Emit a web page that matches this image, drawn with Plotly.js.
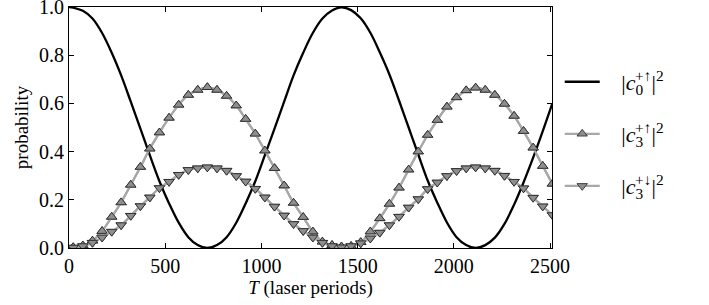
<!DOCTYPE html>
<html>
<head>
<meta charset="utf-8">
<script src="https://cdn.plot.ly/plotly-3.0.1.min.js"></script>
<style>html,body{margin:0;padding:0;background:#fff}#chart{width:709px;height:305px}</style>
</head>
<body>
<div id="chart"></div>
<script>
// Laser periods T (marker sample positions; the first 0 is the start of the curves)
const T = [0, 22, 72, 122, 172, 222, 271, 321, 371, 420, 470,
  520, 570, 620, 669, 719, 769, 819, 869, 918, 968,
  1018, 1068, 1118, 1167, 1217, 1267, 1317, 1367, 1416, 1466,
  1516, 1566, 1615, 1665, 1715, 1765, 1815, 1864, 1914, 1964,
  2014, 2064, 2113, 2163, 2213, 2263, 2313, 2362, 2412, 2462, 2512];

// |c0^{+up}|^2  (black line)
const c0up = [1.0, 0.997, 0.984, 0.952, 0.892, 0.81, 0.716, 0.607, 0.495, 0.385, 0.277,
  0.185, 0.105, 0.045, 0.012, 0.0, 0.012, 0.045, 0.105, 0.185, 0.277,
  0.385, 0.495, 0.607, 0.716, 0.81, 0.892, 0.952, 0.985, 0.999, 0.987,
  0.953, 0.893, 0.812, 0.72, 0.612, 0.50, 0.388, 0.28, 0.188, 0.106,
  0.045, 0.012, 0.0, 0.012, 0.043, 0.1, 0.18, 0.272, 0.375, 0.485, 0.6];

// |c3^{+up}|^2  (grey, up triangles)
const c3up = [0.0, 0.003, 0.01, 0.03, 0.07, 0.129, 0.189, 0.262, 0.336, 0.412, 0.479,
  0.54, 0.594, 0.635, 0.656, 0.667, 0.656, 0.631, 0.591, 0.535, 0.474,
  0.404, 0.331, 0.259, 0.187, 0.128, 0.068, 0.026, 0.012, 0.006, 0.008,
  0.024, 0.068, 0.123, 0.183, 0.25, 0.325, 0.4, 0.469, 0.531, 0.586,
  0.625, 0.654, 0.665, 0.656, 0.635, 0.598, 0.548, 0.485, 0.416, 0.34, 0.266];

// |c3^{+down}|^2  (grey, down triangles)
const c3dn = [0.0, 0.002, 0.008, 0.022, 0.044, 0.068, 0.095, 0.134, 0.174, 0.21, 0.249,
  0.275, 0.304, 0.324, 0.331, 0.335, 0.331, 0.321, 0.299, 0.276, 0.246,
  0.21, 0.172, 0.135, 0.1, 0.071, 0.044, 0.022, 0.008, 0.003, 0.008,
  0.02, 0.04, 0.064, 0.095, 0.13, 0.168, 0.203, 0.245, 0.272, 0.299,
  0.32, 0.331, 0.335, 0.331, 0.321, 0.3, 0.275, 0.248, 0.209, 0.173, 0.137];

const xTicks = [0, 500, 1000, 1500, 2000, 2500];
const yTicks = [0.0, 0.2, 0.4, 0.6, 0.8, 1.0];

const SP = '&nbsp;&nbsp;&nbsp;';
const names = [
  SP + '|<i>c</i><sub><span style="letter-spacing:-8px">0</span></sub><sup>+↑</sup>|<sup>2</sup>',
  SP + '|<i>c</i><sub><span style="letter-spacing:-8px">3</span></sub><sup>+↑</sup>|<sup>2</sup>',
  SP + '|<i>c</i><sub><span style="letter-spacing:-8px">3</span></sub><sup>+↓</sup>|<sup>2</sup>'
];

const FONT = 'Liberation Serif, Times New Roman, serif';
const GREY_LINE = '#a8a8a8';
const GREY_FILL = '#8e8e8e';

const traces = [
  {x: T, y: c3up, mode: 'lines', line: {color: GREY_LINE, width: 2.2, shape: 'spline', smoothing: 1}, showlegend: false, hoverinfo: 'skip'},
  {x: T, y: c3dn, mode: 'lines', line: {color: GREY_LINE, width: 2.2, shape: 'spline', smoothing: 1}, showlegend: false, hoverinfo: 'skip'},
  {x: T, y: c0up, mode: 'lines', line: {color: '#000', width: 2.3, shape: 'spline', smoothing: 1},
   name: names[0], legend: 'legend'},
  {x: T.slice(1), y: c3up.slice(1), mode: 'markers',
   marker: {symbol: 'triangle-up', size: 9, color: GREY_FILL, line: {color: '#222', width: 0.8}},
   showlegend: false, hoverinfo: 'skip'},
  {x: T.slice(1), y: c3dn.slice(1), mode: 'markers',
   marker: {symbol: 'triangle-down', size: 9, color: GREY_FILL, line: {color: '#222', width: 0.8}},
   showlegend: false, hoverinfo: 'skip'},
  // legend entries (line + marker) for the grey series, drawn with the same data
  {x: T.slice(1), y: c3up.slice(1), mode: 'lines+markers', line: {color: GREY_LINE, width: 2.2, shape: 'spline', smoothing: 1},
   marker: {symbol: 'triangle-up', size: 9, color: GREY_FILL, line: {color: '#222', width: 0.8}},
   name: names[1], legend: 'legend2', opacity: 1},
  {x: T.slice(1), y: c3dn.slice(1), mode: 'lines+markers', line: {color: GREY_LINE, width: 2.2, shape: 'spline', smoothing: 1},
   marker: {symbol: 'triangle-down', size: 9, color: GREY_FILL, line: {color: '#222', width: 0.8}},
   name: names[2], legend: 'legend3', opacity: 1}
];

const legBase = {xanchor: 'left', yanchor: 'middle', bgcolor: 'rgba(0,0,0,0)',
  font: {family: FONT, size: 22, color: '#000'}, itemwidth: 35};

const layout = {
  width: 709, height: 305,
  margin: {l: 69, r: 156.5, t: 7, b: 57},
  paper_bgcolor: '#fff', plot_bgcolor: '#fff',
  font: {family: FONT, size: 20, color: '#000'},
  xaxis: {
    range: [0, 2510], tickvals: xTicks, ticktext: xTicks.map(String),
    ticks: 'inside', ticklen: 5, tickwidth: 1, tickcolor: '#000',
    showline: true, linecolor: '#000', linewidth: 1, mirror: 'ticks',
    showgrid: false, zeroline: false,
    tickfont: {family: FONT, size: 20},
    title: {text: '<i>T</i> (laser periods)', font: {family: FONT, size: 19}, standoff: 2}
  },
  yaxis: {
    range: [0, 1], tickvals: yTicks, ticktext: yTicks.map(v => v.toFixed(1)),
    ticks: 'inside', ticklen: 5, tickwidth: 1, tickcolor: '#000',
    showline: true, linecolor: '#000', linewidth: 1, mirror: 'ticks',
    showgrid: false, zeroline: false, ticklabeloverflow: 'allow',
    tickfont: {family: FONT, size: 20},
    title: {text: 'probability', font: {family: FONT, size: 19}, standoff: 5}
  },
  legend: Object.assign({}, legBase, {x: 1.016, y: 0.689}),
  legend2: Object.assign({}, legBase, {x: 1.016, y: 0.473}),
  legend3: Object.assign({}, legBase, {x: 1.016, y: 0.257}),
  showlegend: true
};

Plotly.newPlot('chart', traces, layout, {staticPlot: true, displayModeBar: false});
</script>
</body>
</html>
